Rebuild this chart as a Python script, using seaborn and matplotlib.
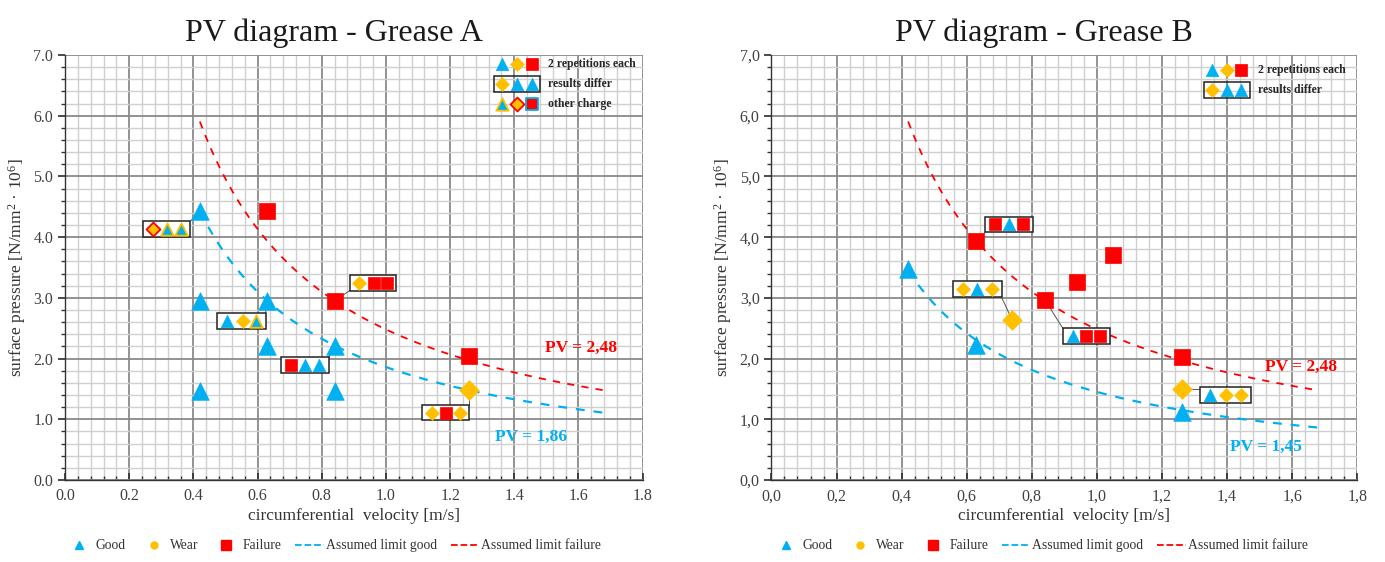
import numpy as np
import pandas as pd
import seaborn as sns
import matplotlib.pyplot as plt
from matplotlib.patches import Rectangle
from matplotlib.lines import Line2D
from matplotlib.ticker import MultipleLocator, FuncFormatter

BLUE = '#00B0F0'
ORANGE = '#FFC000'
RED = '#FF0000'

# ---- Grease A ----
a_good_v = [0.42, 0.42, 0.42, 0.63, 0.63, 0.84, 0.84]
a_good_p = [4.43, 2.95, 1.47, 2.95, 2.20, 2.20, 1.47]
a_wear_v = [1.26]
a_wear_p = [1.48]
a_fail_v = [0.63, 0.84, 1.26]
a_fail_p = [4.43, 2.95, 2.05]

# boxed repetitions: anchor point, box level, marker positions, marker kinds
a_grp_anchor = [(0.42, 4.43), (0.63, 2.95), (0.84, 2.95), (0.84, 2.20), (1.26, 1.48)]
a_grp_p = [4.13, 2.62, 3.25, 1.89, 1.11]
a_grp_v = [[0.273, 0.317, 0.36], [0.504, 0.554, 0.595], [0.917, 0.963, 1.002],
           [0.703, 0.747, 0.792], [1.142, 1.187, 1.23]]
a_grp_kind = [['w_r', 'g_o', 'g_o'], ['g', 'w', 'g_o'], ['w', 'f', 'f'],
              ['f', 'g', 'g'], ['w', 'f', 'w']]

# ---- Grease B ----
b_good_v = [0.42, 0.63, 1.26]
b_good_p = [3.47, 2.22, 1.12]
b_wear_v = [0.74, 1.26]
b_wear_p = [2.63, 1.50]
b_fail_v = [0.63, 0.84, 0.94, 1.05, 1.26]
b_fail_p = [3.94, 2.97, 3.26, 3.71, 2.02]

b_grp_anchor = [(0.63, 3.94), (0.74, 2.63), (0.84, 2.97), (1.26, 1.50)]
b_grp_p = [4.21, 3.14, 2.37, 1.40]
b_grp_v = [[0.687, 0.731, 0.774], [0.588, 0.631, 0.677],
           [0.925, 0.966, 1.009], [1.347, 1.396, 1.442]]
b_grp_kind = [['f', 'g', 'f'], ['w', 'g', 'w'], ['g', 'f', 'f'], ['g', 'w', 'w']]

# assumed PV limits
v_range = [0.42, 1.68]
a_pv_good, a_pv_fail = 1.86, 2.48
b_pv_good, b_pv_fail = 1.45, 2.48

STYLE = {
    'g':   dict(marker='^', color=BLUE, edgecolor=BLUE),
    'w':   dict(marker='D', color=ORANGE, edgecolor=ORANGE),
    'f':   dict(marker='s', color=RED, edgecolor=RED),
    'g_o': dict(marker='^', color=BLUE, edgecolor=ORANGE),
    'w_r': dict(marker='D', color=ORANGE, edgecolor=RED),
    'f_b': dict(marker='s', color=RED, edgecolor=BLUE),
}
SIZE = {'^': 160, 'D': 100, 's': 130}

sns.set_theme(style='white')
plt.rcParams['font.family'] = ['Liberation Serif', 'DejaVu Serif']
plt.rcParams['mathtext.fontset'] = 'custom'
plt.rcParams['mathtext.rm'] = 'Liberation Serif'
plt.rcParams['mathtext.default'] = 'rm'


def draw(ax, v, p, kind, scale=1.0, **kw):
    st = STYLE[kind]
    sns.scatterplot(x=v, y=p, ax=ax, marker=st['marker'], color=st['color'],
                    edgecolor=st['edgecolor'], s=SIZE[st['marker']] * scale,
                    linewidth=1.3 if kind in ('g_o', 'w_r', 'f_b') else 0.5,
                    zorder=6, legend=False, **kw)


def draw_groups(ax, anchors, levels, vs, kinds):
    for (av, ap), p, v, k in zip(anchors, levels, vs, kinds):
        x0, x1 = min(v) - 0.03, max(v) + 0.03
        y0, y1 = p - 0.13, p + 0.13
        ax.add_patch(Rectangle((x0, y0), x1 - x0, y1 - y0, fill=False,
                               ec='#222222', lw=1.1, zorder=4))
        cx, cy = min(max(av, x0), x1), min(max(ap, y0), y1)
        ax.plot([cx, av], [cy, ap], color='#555555', lw=0.7, zorder=3)
        ax.add_patch(Rectangle((x0, y0), x1 - x0, y1 - y0, fc='white',
                               ec='none', zorder=3.5))
        df = pd.DataFrame({'v': v, 'p': [p] * len(v), 'kind': k})
        for kind, sub in df.groupby('kind'):
            draw(ax, sub['v'].values, sub['p'].values, kind, scale=0.5)


def draw_key(ax, rows, xs, text_x, ys, box_row):
    for r, (kinds, label) in enumerate(rows):
        for x, k in zip(xs, kinds):
            draw(ax, [x], [ys[r]], k, scale=0.5, transform=ax.transAxes,
                 clip_on=False)
        ax.text(text_x, ys[r], label, transform=ax.transAxes, fontsize=8.5,
                fontweight='bold', va='center', ha='left', zorder=7)
    y = ys[box_row]
    ax.add_patch(Rectangle((xs[0] - 0.014, y - 0.018), xs[-1] - xs[0] + 0.028,
                           0.036, transform=ax.transAxes, fill=False,
                           ec='#222222', lw=1.1, zorder=4))


def setup(ax, title, comma):
    ax.set_xlim(0, 1.8)
    ax.set_ylim(0, 7)
    ax.xaxis.set_major_locator(MultipleLocator(0.2))
    ax.xaxis.set_minor_locator(MultipleLocator(0.04))
    ax.yaxis.set_major_locator(MultipleLocator(1.0))
    ax.yaxis.set_minor_locator(MultipleLocator(0.2))
    fmt = (lambda x, pos: f'{x:.1f}'.replace('.', ',')) if comma else (lambda x, pos: f'{x:.1f}')
    ax.xaxis.set_major_formatter(FuncFormatter(fmt))
    ax.yaxis.set_major_formatter(FuncFormatter(fmt))
    ax.grid(which='major', color='#8a8a8a', lw=1.3)
    ax.grid(which='minor', color='#cfcfcf', lw=1.0)
    ax.set_axisbelow(True)
    for s in ('top', 'right'):
        ax.spines[s].set_visible(False)
    for s in ('left', 'bottom'):
        ax.spines[s].set_color('#333333')
        ax.spines[s].set_linewidth(1.0)
    ax.tick_params(which='both', color='#333333', left=True,
                   bottom=True, labelsize=11.5, labelcolor='#404040')
    ax.tick_params(axis='y', which='both', direction='out')
    ax.tick_params(axis='x', which='both', direction='in')
    ax.tick_params(which='major', length=5)
    ax.tick_params(which='minor', length=3)
    ax.tick_params(axis='x', pad=6)
    ax.set_title(title, fontsize=23, x=0.465, pad=10, color='#1a1a1a')
    ax.set_xlabel('circumferential  velocity [m/s]', fontsize=12.5, color='#333333',
                  labelpad=3)
    ax.set_ylabel('surface pressure [N/mm$^2$ · 10$^6$]', fontsize=12.5, color='#333333')
    handles = [
        Line2D([], [], marker='^', color=BLUE, ls='none', ms=5.5),
        Line2D([], [], marker='o', color=ORANGE, ls='none', ms=5),
        Line2D([], [], marker='s', color=RED, ls='none', ms=6.5),
        Line2D([], [], color=BLUE, ls='--', lw=1.3),
        Line2D([], [], color=RED, ls='--', lw=1.3),
    ]
    labels = ['Good', 'Wear', 'Failure', 'Assumed limit good', 'Assumed limit failure']
    ax.legend(handles, labels, loc='upper left', bbox_to_anchor=(0.0, -0.14),
              ncol=5, frameon=False, fontsize=9.8, handlelength=2.1,
              handletextpad=0.15, columnspacing=1.0, borderaxespad=0, borderpad=0,
              labelcolor='#333333')


def draw_limits(ax, pv_good, pv_fail):
    v = np.linspace(v_range[0], v_range[1], 200)
    sns.lineplot(x=v, y=pv_fail / v, ax=ax, color=RED, lw=1.3, ls=(0, (4, 4)), zorder=2)
    sns.lineplot(x=v, y=pv_good / v, ax=ax, color=BLUE, lw=1.6, ls=(0, (4, 4)), zorder=2)


fig = plt.figure(figsize=(13.85, 5.62), dpi=100)
ax1 = fig.add_axes([0.047, 0.146, 0.417, 0.756])
ax2 = fig.add_axes([0.557, 0.146, 0.423, 0.756])

# Grease A
draw_limits(ax1, a_pv_good, a_pv_fail)
draw_groups(ax1, a_grp_anchor, a_grp_p, a_grp_v, a_grp_kind)
draw(ax1, a_good_v, a_good_p, 'g')
draw(ax1, a_wear_v, a_wear_p, 'w')
draw(ax1, a_fail_v, a_fail_p, 'f')
ax1.text(1.495, 2.17, f'PV = {a_pv_fail:.2f}'.replace('.', ','), color=RED,
         fontsize=12.5, fontweight='bold', va='center')
ax1.text(1.34, 0.71, f'PV = {a_pv_good:.2f}'.replace('.', ','), color=BLUE,
         fontsize=12.5, fontweight='bold', va='center')
draw_key(ax1, [(['g', 'w', 'f'], '2 repetitions each'),
               (['w', 'g', 'g'], 'results differ'),
               (['g_o', 'w_r', 'f_b'], 'other charge')],
         [0.756, 0.782, 0.808], 0.836, [0.979, 0.932, 0.884], 1)
setup(ax1, 'PV diagram - Grease A', comma=False)

# Grease B
draw_limits(ax2, b_pv_good, b_pv_fail)
draw_groups(ax2, b_grp_anchor, b_grp_p, b_grp_v, b_grp_kind)
draw(ax2, b_good_v, b_good_p, 'g')
draw(ax2, b_wear_v, b_wear_p, 'w')
draw(ax2, b_fail_v, b_fail_p, 'f')
ax2.text(1.515, 1.86, f'PV = {b_pv_fail:.2f}'.replace('.', ','), color=RED,
         fontsize=12.5, fontweight='bold', va='center')
ax2.text(1.41, 0.54, f'PV = {b_pv_good:.2f}'.replace('.', ','), color=BLUE,
         fontsize=12.5, fontweight='bold', va='center')
draw_key(ax2, [(['g', 'w', 'f'], '2 repetitions each'),
               (['w', 'g', 'g'], 'results differ')],
         [0.752, 0.777, 0.802], 0.830, [0.965, 0.918], 1)
setup(ax2, 'PV diagram - Grease B', comma=True)

fig.savefig('out.png', dpi=100)
